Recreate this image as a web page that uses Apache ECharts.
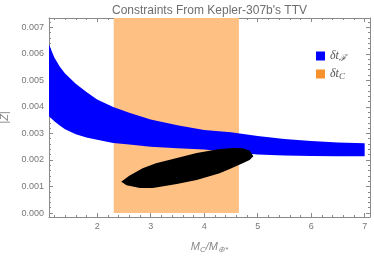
<!DOCTYPE html>
<html>
<head>
<meta charset="utf-8">
<script src="https://cdn.jsdelivr.net/npm/echarts@6/dist/echarts.min.js"></script>
<style>html,body{margin:0;padding:0;background:#fff}#c{width:374px;height:257px}</style>
</head>
<body>
<div id="c"></div>
<script>
// ---- data ----
var bandX     = [1.1, 1.2, 1.3, 1.4, 1.6, 1.8, 2.0, 2.3, 2.6, 3.0, 3.5, 4.0, 4.5, 5.0, 5.5, 6.0, 6.5, 7.0];
var bandUpper = [0.00635, 0.00586, 0.00552, 0.00526, 0.00487, 0.00456, 0.00428, 0.00400, 0.00378, 0.00352, 0.00331, 0.00313, 0.00304, 0.00290, 0.00279, 0.00271, 0.00266, 0.00263];
var bandLower = [0.00365, 0.00346, 0.00330, 0.00316, 0.00297, 0.00285, 0.00276, 0.00264, 0.00258, 0.00250, 0.00244, 0.00239, 0.00229, 0.00221, 0.00217, 0.00215, 0.00214, 0.00214];

var blobUpperX = [2.45, 2.60, 2.85, 3.10, 3.49, 3.86, 4.29, 4.55, 4.72, 4.85, 4.92];
var blobUpperY = [0.00118, 0.00140, 0.00169, 0.00188, 0.00207, 0.00226, 0.00241, 0.00245, 0.00244, 0.00236, 0.00214];
var blobLowerX = [4.92, 4.85, 4.72, 4.50, 4.29, 3.86, 3.49, 3.04, 2.80, 2.55, 2.45];
var blobLowerY = [0.00214, 0.00200, 0.00188, 0.00168, 0.00150, 0.00124, 0.00109, 0.00094, 0.00094, 0.00105, 0.00118];

var massRange = [2.31, 4.65];

var xMajor = [2, 3, 4, 5, 6, 7];
var xMinor = [1.2, 1.4, 1.6, 1.8, 2.2, 2.4, 2.6, 2.8, 3.2, 3.4, 3.6, 3.8, 4.2, 4.4, 4.6, 4.8, 5.2, 5.4, 5.6, 5.8, 6.2, 6.4, 6.6, 6.8, 7.0];
var yMajor = [0, 0.001, 0.002, 0.003, 0.004, 0.005, 0.006, 0.007];
var yMinor = [0.0002, 0.0004, 0.0006, 0.0008, 0.0012, 0.0014, 0.0016, 0.0018, 0.0022, 0.0024, 0.0026, 0.0028, 0.0032, 0.0034, 0.0036, 0.0038, 0.0042, 0.0044, 0.0046, 0.0048, 0.0052, 0.0054, 0.0056, 0.0058, 0.0062, 0.0064, 0.0066, 0.0068, 0.0072];

var X_MIN = 1.1, X_MAX = 7.1, Y_MIN = -0.00015, Y_MAX = 0.00735;

// ---- chart ----
var frameColor = '#8a8a8a';
var labelColor = '#777';
function axisBase(pos, isX, ticks, len, labels, showLine) {
  var a = {
    type: 'value', position: pos,
    min: isX ? X_MIN : Y_MIN, max: isX ? X_MAX : Y_MAX,
    axisLine: {show: showLine, onZero: false, lineStyle: {color: frameColor, width: 1}},
    axisTick: {show: true, inside: true, length: len, customValues: ticks, lineStyle: {color: frameColor, width: 1}},
    axisLabel: labels ? {show: true, customValues: ticks, color: labelColor, fontSize: 9, fontFamily: 'Liberation Sans',
                         margin: 5, formatter: isX ? function (v) { return String(Math.round(v)); } : function (v) { return v.toFixed(3); }}
                      : {show: false},
    splitLine: {show: false}
  };
  return a;
}

var xAxes = [
  axisBase('bottom', true, xMajor, 4, true, true),
  axisBase('bottom', true, xMinor, 2, false, false),
  axisBase('top', true, xMajor, 4, false, true),
  axisBase('top', true, xMinor, 2, false, false)
];
xAxes[0].name = '{i|M}{s|C}{i|/M}{s|⊕*}';
xAxes[0].nameLocation = 'middle';
xAxes[0].nameGap = 22;
xAxes[0].nameTextStyle = {
  color: '#888',
  rich: {
    i: {fontFamily: 'Liberation Sans', fontStyle: 'italic', fontSize: 11, color: '#888'},
    s: {fontFamily: 'Liberation Sans', fontStyle: 'italic', fontSize: 8, color: '#888', padding: [7, 0, 0, 0]}
  }
};

var yAxes = [
  axisBase('left', false, yMajor, 4, true, true),
  axisBase('left', false, yMinor, 2, false, false),
  axisBase('right', false, yMajor, 4, false, true),
  axisBase('right', false, yMinor, 2, false, false)
];
yAxes[0].name = '|Z|';
yAxes[0].nameLocation = 'middle';
yAxes[0].nameRotate = 90;
yAxes[0].nameGap = 36;
yAxes[0].nameTextStyle = {color: '#888', fontFamily: 'Liberation Sans', fontStyle: 'italic', fontSize: 11};

function bandPolygon() {
  var pts = [];
  for (var i = 0; i < bandX.length; i++) pts.push([bandX[i], bandUpper[i]]);
  for (var j = bandX.length - 1; j >= 0; j--) pts.push([bandX[j], bandLower[j]]);
  return pts;
}
function blobPolygon() {
  var pts = [];
  for (var i = 0; i < blobUpperX.length; i++) pts.push([blobUpperX[i], blobUpperY[i]]);
  for (var j = 0; j < blobLowerX.length; j++) pts.push([blobLowerX[j], blobLowerY[j]]);
  return pts;
}
function polySeries(name, pts, fill, z) {
  return {
    type: 'custom', name: name, coordinateSystem: 'cartesian2d', z: z,
    xAxisIndex: 0, yAxisIndex: 0,
    data: [[3, 0.003]],
    silent: true,
    renderItem: function (params, api) {
      return {type: 'polygon', shape: {points: pts.map(function (p) { return api.coord(p); })},
              style: {fill: fill, stroke: null}};
    },
    itemStyle: {color: fill}
  };
}

var option = {
  animation: false,
  backgroundColor: '#fff',
  title: {
    text: "Constraints From Kepler-307b's TTV",
    left: 107, top: 0,
    textStyle: {color: '#6e6e6e', fontSize: 12, fontWeight: 'normal', fontFamily: 'Liberation Sans'}
  },
  grid: {left: 49, right: 4, top: 18, bottom: 40, containLabel: false, outerBoundsMode: 'none'},
  xAxis: xAxes,
  yAxis: yAxes,
  legend: {
    orient: 'vertical', left: 311, top: 45, itemWidth: 9, itemHeight: 9, itemGap: 5,
    selectedMode: false,
    data: [
      {name: 'F', icon: 'rect', itemStyle: {color: '#0000ff'}},
      {name: 'C', icon: 'rect', itemStyle: {color: '#f7912c'}}
    ],
    formatter: function (n) { return n === 'F' ? '{d|δt}{s|ℱ}' : '{d|δt}{s|C}'; },
    textStyle: {
      rich: {
        d: {fontFamily: 'Liberation Serif', fontStyle: 'italic', fontSize: 12, color: '#555'},
        s: {fontFamily: 'Liberation Serif', fontStyle: 'italic', fontSize: 9, color: '#555', padding: [5, 0, 0, 0]}
      }
    }
  },
  series: [
    {
      type: 'custom', name: 'C', coordinateSystem: 'cartesian2d', z: 1,
      data: [[3, 0.003]], silent: true,
      renderItem: function (params, api) {
        var p0 = api.coord([massRange[0], 0]);
        var p1 = api.coord([massRange[1], Y_MAX]);
        return {type: 'rect', shape: {x: p0[0], y: p1[1], width: p1[0] - p0[0], height: p0[1] - p1[1]},
                style: {fill: '#ffc083'}};
      },
      itemStyle: {color: '#f7912c'}
    },
    polySeries('F', bandPolygon(), '#0000ff', 2),
    polySeries('blob', blobPolygon(), '#000000', 3)
  ]
};
var chart = echarts.init(document.getElementById('c'), null, {renderer: 'canvas'});
chart.setOption(option);
</script>
</body>
</html>
